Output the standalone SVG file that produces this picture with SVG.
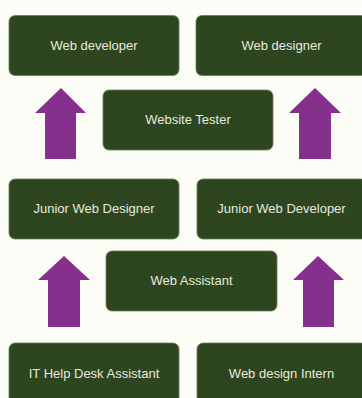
<svg xmlns="http://www.w3.org/2000/svg" width="362" height="398" viewBox="0 0 362 398">
<style>
.box{fill:#2e4620;stroke:#6b7a5c;stroke-width:0.8}
.lbl{font-family:"Liberation Sans",Arial,sans-serif;font-size:13px;fill:#e8e8de;text-anchor:middle;dominant-baseline:central}
.arr{fill:#85308c}
</style>
<rect width="362" height="398" fill="#fdfdf8"/>
<g id="connectors">
<polygon class="arr" points="61,88 86,113 76,113 76,159 45,159 45,113 35,113"/>
<polygon class="arr" points="315,88 341,113 331,113 331,159 299,159 299,113 289,113"/>
<polygon class="arr" points="64,256 90,280 80,280 80,327 48,327 48,280 38,280"/>
<polygon class="arr" points="318,256 344,280 334,280 334,327 303,327 303,280 293,280"/>
</g>
<g id="web-developer"><rect class="box" x="9" y="15.5" width="170" height="60" rx="6"/><text class="lbl" x="94" y="45">Web developer</text></g>
<g id="web-designer"><rect class="box" x="196" y="15.5" width="171" height="60" rx="6"/><text class="lbl" x="281.5" y="45">Web designer</text></g>
<g id="website-tester"><rect class="box" x="103" y="90" width="170" height="60" rx="6"/><text class="lbl" x="188" y="119.5">Website Tester</text></g>
<g id="junior-web-designer"><rect class="box" x="9" y="179" width="170" height="60" rx="6"/><text class="lbl" x="94" y="208.5">Junior Web Designer</text></g>
<g id="junior-web-developer"><rect class="box" x="197" y="179" width="170" height="60" rx="6"/><text class="lbl" x="281.5" y="208.5">Junior Web Developer</text></g>
<g id="web-assistant"><rect class="box" x="106" y="251" width="171" height="60" rx="6"/><text class="lbl" x="191.5" y="280.5">Web Assistant</text></g>
<g id="it-help-desk-assistant"><rect class="box" x="9" y="343" width="170" height="60" rx="6"/><text class="lbl" x="94" y="373">IT Help Desk Assistant</text></g>
<g id="web-design-intern"><rect class="box" x="197" y="343" width="170" height="60" rx="6"/><text class="lbl" x="281.5" y="373">Web design Intern</text></g>
</svg>
